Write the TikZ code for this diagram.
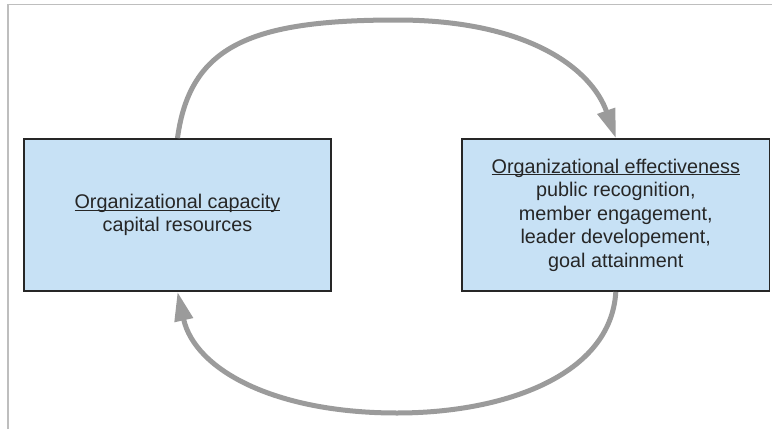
\documentclass[tikz,border=0pt]{standalone}
\usepackage{fontspec}
\setmainfont{Liberation Sans}
\usepackage{tikz}
\usetikzlibrary{positioning, arrows.meta}
\definecolor{boxblue}{RGB}{199,225,245}
\definecolor{arcgray}{RGB}{155,155,155}
\definecolor{framegray}{RGB}{190,190,190}
\newcommand{\boxtitle}[1]{\underline{\smash{#1}}\vphantom{#1}}

\begin{document}
\begin{tikzpicture}[x=1pt,y=-1pt,
  orgbox/.style={draw=black!85,line width=1.8pt,fill=boxblue,
    minimum width=307.5pt,minimum height=152pt,align=center,
    text=black!85,font=\fontsize{19.8}{23.5}\selectfont},
  cyclearc/.style={draw=arcgray,line width=5pt,
    -{Triangle[length=29pt,width=18pt]}}]
\useasboundingbox (0,0) rectangle (772,429);
\draw[framegray,line width=1.2pt](8,429)--(8,4.5)--(772,4.5);

\node[orgbox] (cap) at (177.5,215) {\boxtitle{Organizational capacity}\\capital resources};
\node[orgbox,right=129pt of cap] (eff) {\boxtitle{Organizational effectiveness}\\public recognition,\\member engagement,\\leader developement,\\goal attainment};

\coordinate (top) at (397,20);
\coordinate (bot) at (397,413);
\draw[cyclearc](cap.north) .. controls (190,45) and (252,20) .. (top)
  .. controls (530,20) and (592,70) .. (eff.north);
\draw[cyclearc](eff.south) .. controls (611,375) and (505,413) .. (bot)
  .. controls (275,413) and (195,370) .. (cap.south);
\end{tikzpicture}
\end{document}
